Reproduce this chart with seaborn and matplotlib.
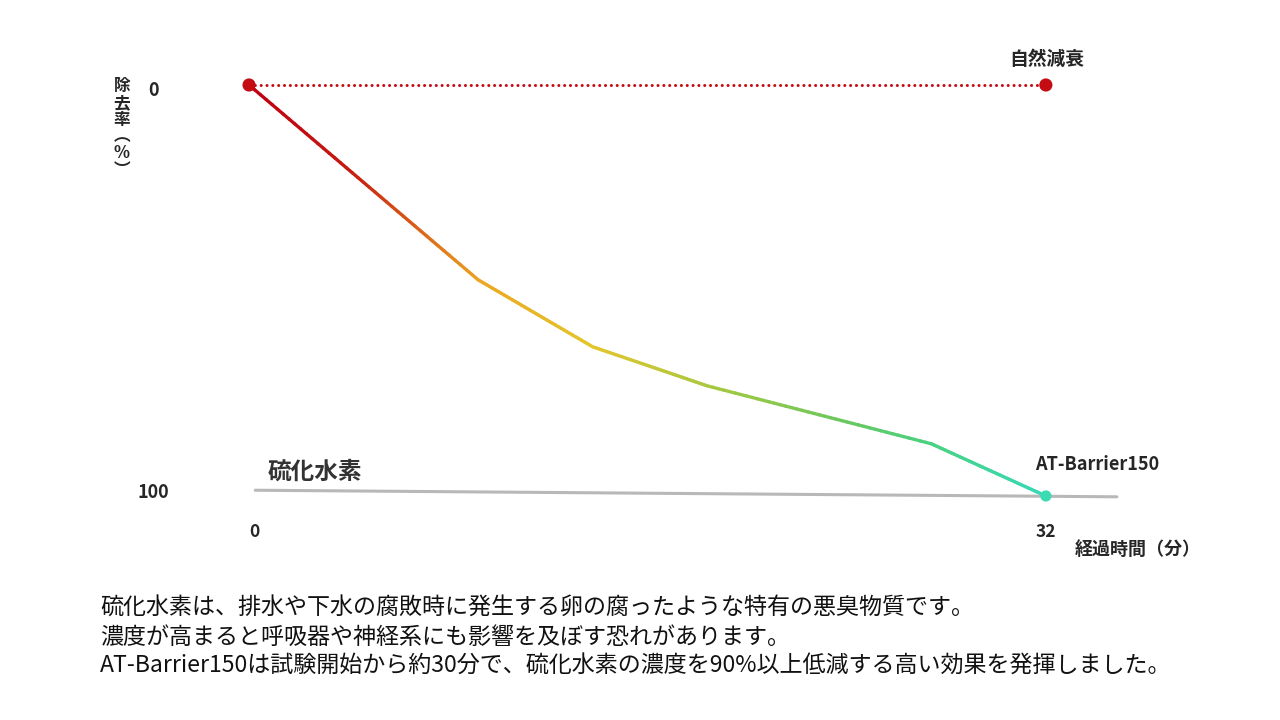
import numpy as np
import pandas as pd
import matplotlib
matplotlib.use("Agg")
import matplotlib.pyplot as plt
import matplotlib.transforms as mtransforms
import seaborn as sns
from matplotlib.collections import LineCollection
from matplotlib.colors import LinearSegmentedColormap

sns.set_style("white")
plt.rcParams['font.family'] = ['Noto Sans CJK JP', 'DejaVu Sans']

# データ
elapsed_min = [0, 9.2, 13.8, 18.4, 27.4, 32]
removal_rate = [0, 47.4, 63.7, 73.2, 87.3, 100]
natural_x = [0, 32]
natural_y = [0, 0]
gas_x = [0.25, 34.85]
gas_y = [98.6, 100.2]
x_ticks = [0, 32]
y_ticks = [0, 100]

notes = [
    "硫化水素は、排水や下水の腐敗時に発生する卵の腐ったような特有の悪臭物質です。",
    "濃度が高まると呼吸器や神経系にも影響を及ぼす恐れがあります。",
    "AT-Barrier150は試験開始から約30分で、硫化水素の濃度を90%以上低減する高い効果を発揮しました。",
]

red = '#c40d12'
teal = '#3ddbb2'
gray = '#b8b8b8'

fig = plt.figure(figsize=(12.8, 7.2), dpi=100)
ax = fig.add_axes([0.1751, 0.2826, 0.7198, 0.6279])

# 硫化水素ライン
sns.lineplot(x=gas_x, y=gas_y, ax=ax, color=gray, linewidth=2.2, clip_on=False)

# 自然減衰
nat = pd.DataFrame({'x': natural_x, 'y': natural_y})
sns.lineplot(data=nat, x='x', y='y', ax=ax, color=red, linewidth=2.2,
             linestyle=(0, (0.01, 1.9)), dash_capstyle='round', clip_on=False)
sns.scatterplot(data=nat, x='x', y='y', ax=ax, color=red, s=90, edgecolor='none',
                zorder=5, clip_on=False)

# AT-Barrier150 (グラデーション線)
cmap = LinearSegmentedColormap.from_list('grad', [
    (0.0, '#c00012'), (0.12, '#c41a10'), (0.2, '#d85a16'), (0.29, '#eba822'),
    (0.43, '#e4c62c'), (0.58, '#a8c840'), (0.75, '#68c860'), (0.86, '#48d284'),
    (1.0, '#38d9b8')])
xs, ys = [], []
for i in range(len(elapsed_min) - 1):
    t = np.linspace(0, 1, 40, endpoint=False)
    xs.append(elapsed_min[i] + t * (elapsed_min[i + 1] - elapsed_min[i]))
    ys.append(removal_rate[i] + t * (removal_rate[i + 1] - removal_rate[i]))
xs.append([elapsed_min[-1]])
ys.append([removal_rate[-1]])
xs = np.concatenate(xs)
ys = np.concatenate(ys)
pts = np.array([xs, ys]).T.reshape(-1, 1, 2)
segs = np.concatenate([pts[:-1], pts[1:]], axis=1)
lc = LineCollection(segs, cmap=cmap, linewidth=2.4, capstyle='round', zorder=4)
lc.set_array(xs[:-1] / elapsed_min[-1])
lc.set_clim(0, 1)
ax.add_collection(lc)
sns.scatterplot(x=[elapsed_min[-1]], y=[removal_rate[-1]], ax=ax, color=teal, s=65,
                edgecolor='none', zorder=6, clip_on=False)

ax.set_xlim(-1, 36)
ax.set_ylim(105, -5)
for s in ax.spines.values():
    s.set_visible(False)
ax.set_xticks(x_ticks)
ax.set_xticklabels([str(v) for v in x_ticks], fontsize=12.5, fontweight='bold')
ax.set_yticks(y_ticks)
ax.set_yticklabels([str(v) for v in y_ticks], fontsize=13, fontweight='bold', ha='center')
ax.tick_params(axis='x', length=0, pad=5)
ax.tick_params(axis='y', length=0, pad=51)
ax.set_xlabel("")
ax.set_ylabel("")

# 目盛ラベルの微調整
shifts_y = [-4, 5]
for lbl, dy in zip(ax.get_yticklabels(), shifts_y):
    lbl.set_transform(lbl.get_transform() + mtransforms.ScaledTranslation(0, dy / 100, fig.dpi_scale_trans))
shifts_x = [5, 0]
for lbl, dx in zip(ax.get_xticklabels(), shifts_x):
    lbl.set_transform(lbl.get_transform() + mtransforms.ScaledTranslation(dx / 100, 0, fig.dpi_scale_trans))

fig.text(122 / 1280, 1 - 128 / 720, "除\n去\n率\n︵\n%\n︶", ha='center', va='center',
         fontsize=12, fontweight='bold', linespacing=0.92)
fig.text(1047 / 1280, 1 - 59 / 720, "自然減衰", ha='center', va='center',
         fontsize=13.5, fontweight='bold')
fig.text(1097 / 1280, 1 - 465 / 720, "AT-Barrier150", ha='center', va='center',
         fontsize=13, fontweight='bold')
fig.text(268 / 1280, 1 - 472 / 720, "硫化水素", ha='left', va='center',
         fontsize=17, fontweight='bold', color='#333333')
fig.text(1138 / 1280, 1 - 549 / 720, "経過時間（分）", ha='center', va='center',
         fontsize=13, fontweight='bold')

for i, line in enumerate(notes):
    fig.text(100 / 1280, 1 - (608 + 29 * i) / 720, line, ha='left', va='center',
             fontsize=16.6, color='#111111')

fig.savefig("out.png", dpi=100)
